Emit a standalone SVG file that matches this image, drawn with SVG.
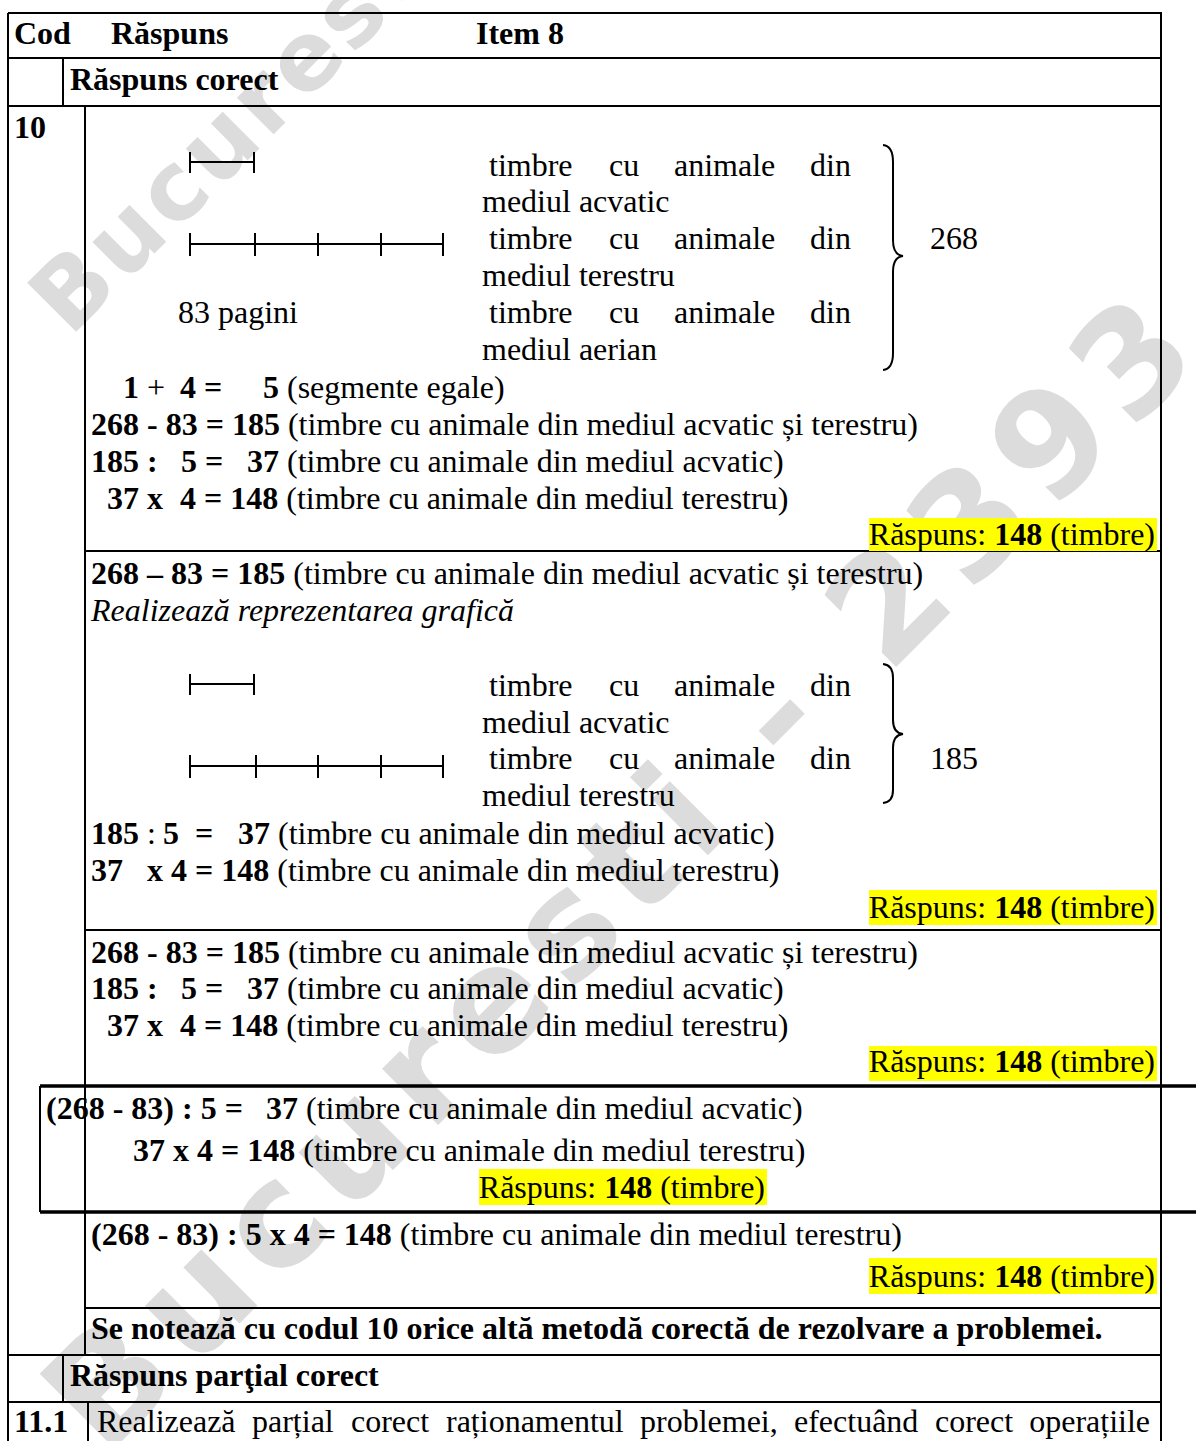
<svg xmlns="http://www.w3.org/2000/svg" width="1196" height="1441" viewBox="0 0 1196 1441">
<style>
text{font-family:"Liberation Serif","Times New Roman",serif;font-size:32px;fill:#000}
.b{font-weight:bold}
.i{font-style:italic}
text.wm1{font-family:"DejaVu Sans",sans-serif;font-weight:bold;fill:#dcdcdc;font-size:145px;letter-spacing:14px}
text.wm2{font-family:"DejaVu Sans",sans-serif;font-weight:bold;fill:#dcdcdc;font-size:95px;letter-spacing:4px}
.ln{stroke:#000;stroke-width:2;fill:none}
.thk{stroke:#000;stroke-width:3.5;fill:none}
.seg{stroke:#000;stroke-width:2;fill:none}
.hl{fill:#ffff00}
.br{stroke:#000;stroke-width:2;fill:none}
</style>
<rect width="1196" height="1441" fill="#fff"/>
<g id="watermark">
<text class="wm1" transform="translate(105,1458) rotate(-45)">Bucuresti - 2393</text>
<text class="wm2" transform="translate(70,338) rotate(-45)">Bucuresti - 2393</text>
</g>
<g id="connectors">
<path class="ln" d="M8,13H1161V1441M8,13V1441M8,58H1161M8,106H1161M63,58V106M85,106V1355M85,551H1161M85,930H1161M85,1308H1161M8,1355H1161M63,1355V1402M8,1402H1161M88,1402V1441M40,1086V1212"/>
<path class="thk" d="M40,1086H1196M40,1212H1196"/>
</g>
<g id="header">
<text class="b" x="14" y="44">Cod</text>
<text class="b" x="111" y="44">Răspuns</text>
<text class="b" x="476" y="44">Item 8</text>
<text class="b" x="70" y="90">Răspuns corect</text>
<text class="b" x="14" y="138">10</text>
</g>
<g id="method1">
<path class="seg" d="M190,162H254M190,152V173M254,152V173"/>
<path class="seg" d="M190,244H443M190,233V256M255,233V256M318,233V256M381,233V256M443,233V256"/>
<text y="176"><tspan x="489">timbre</tspan><tspan x="609">cu</tspan><tspan x="674">animale</tspan><tspan x="810">din</tspan></text>
<text x="482" y="212">mediul acvatic</text>
<text y="249"><tspan x="489">timbre</tspan><tspan x="609">cu</tspan><tspan x="674">animale</tspan><tspan x="810">din</tspan></text>
<text x="482" y="286">mediul terestru</text>
<text x="178" y="323">83 pagini</text>
<text y="323"><tspan x="489">timbre</tspan><tspan x="609">cu</tspan><tspan x="674">animale</tspan><tspan x="810">din</tspan></text>
<text x="482" y="360">mediul aerian</text>
<path class="br" d="M883,145Q893,146 893,162V240Q893,255 903,256Q893,257 893,272V353Q893,369 883,370"/>
<text x="930" y="249">268</text>
<text y="398"><tspan class="b" x="123">1</tspan><tspan x="147">+</tspan><tspan class="b" x="180">4 =</tspan><tspan class="b" x="263">5</tspan> (segmente egale)</text>
<text x="91" y="435"><tspan class="b">268 - 83 = 185</tspan> (timbre cu animale din mediul acvatic și terestru)</text>
<text y="472"><tspan class="b" x="91">185 :</tspan><tspan class="b" x="181">5 =</tspan><tspan class="b" x="247">37</tspan> (timbre cu animale din mediul acvatic)</text>
<text y="509"><tspan class="b" x="107">37 x</tspan><tspan class="b" x="180">4 = 148</tspan> (timbre cu animale din mediul terestru)</text>
<rect class="hl" x="869" y="518" width="288" height="33"/>
<text x="1155" y="545" text-anchor="end">Răspuns: <tspan class="b">148</tspan> (timbre)</text>
</g>
<g id="method2">
<text x="91" y="584"><tspan class="b">268 – 83 = 185</tspan> (timbre cu animale din mediul acvatic și terestru)</text>
<text class="i" x="91" y="621">Realizează reprezentarea grafică</text>
<path class="seg" d="M190,684H254M190,674V695M254,674V695"/>
<path class="seg" d="M190,766H443M190,755V778M256,755V778M318,755V778M381,755V778M443,755V778"/>
<text y="696"><tspan x="489">timbre</tspan><tspan x="609">cu</tspan><tspan x="674">animale</tspan><tspan x="810">din</tspan></text>
<text x="482" y="733">mediul acvatic</text>
<text y="769"><tspan x="489">timbre</tspan><tspan x="609">cu</tspan><tspan x="674">animale</tspan><tspan x="810">din</tspan></text>
<text x="482" y="806">mediul terestru</text>
<path class="br" d="M883,664Q893,665 893,678V720Q893,733 903,734Q893,735 893,748V790Q893,802 883,803"/>
<text x="930" y="769">185</text>
<text y="844"><tspan class="b" x="91">185</tspan><tspan x="147">:</tspan><tspan class="b" x="163">5</tspan><tspan class="b" x="195">=</tspan><tspan class="b" x="238">37</tspan> (timbre cu animale din mediul acvatic)</text>
<text y="881"><tspan class="b" x="91">37</tspan><tspan class="b" x="147">x 4 = 148</tspan> (timbre cu animale din mediul terestru)</text>
<rect class="hl" x="869" y="890" width="288" height="35"/>
<text x="1155" y="918" text-anchor="end">Răspuns: <tspan class="b">148</tspan> (timbre)</text>
</g>
<g id="method3">
<text x="91" y="963"><tspan class="b">268 - 83 = 185</tspan> (timbre cu animale din mediul acvatic și terestru)</text>
<text y="999"><tspan class="b" x="91">185 :</tspan><tspan class="b" x="181">5 =</tspan><tspan class="b" x="247">37</tspan> (timbre cu animale din mediul acvatic)</text>
<text y="1036"><tspan class="b" x="107">37 x</tspan><tspan class="b" x="180">4 = 148</tspan> (timbre cu animale din mediul terestru)</text>
<rect class="hl" x="869" y="1046" width="288" height="35"/>
<text x="1155" y="1072" text-anchor="end">Răspuns: <tspan class="b">148</tspan> (timbre)</text>
</g>
<g id="method4">
<text y="1119"><tspan class="b" x="46">(268 - 83) : 5 =</tspan><tspan class="b" x="266">37</tspan> (timbre cu animale din mediul acvatic)</text>
<text x="133" y="1161"><tspan class="b">37 x 4 = 148</tspan> (timbre cu animale din mediul terestru)</text>
<rect class="hl" x="479" y="1169" width="288" height="36"/>
<text x="765" y="1198" text-anchor="end">Răspuns: <tspan class="b">148</tspan> (timbre)</text>
</g>
<g id="method5">
<text x="91" y="1245"><tspan class="b">(268 - 83) : 5 x 4 = 148</tspan> (timbre cu animale din mediul terestru)</text>
<rect class="hl" x="869" y="1258" width="288" height="36"/>
<text x="1155" y="1287" text-anchor="end">Răspuns: <tspan class="b">148</tspan> (timbre)</text>
</g>
<g id="note">
<text class="b" x="91" y="1339">Se notează cu codul 10 orice altă metodă corectă de rezolvare a problemei.</text>
</g>
<g id="partial">
<text class="b" x="70" y="1386">Răspuns parţial corect</text>
<text class="b" x="14" y="1432">11.1</text>
<text y="1432"><tspan x="97">Realizează</tspan><tspan x="252">parțial</tspan><tspan x="351">corect</tspan><tspan x="446">raționamentul</tspan><tspan x="640">problemei,</tspan><tspan x="794">efectuând</tspan><tspan x="935">corect</tspan><tspan x="1150" text-anchor="end">operațiile</tspan></text>
</g>
</svg>
